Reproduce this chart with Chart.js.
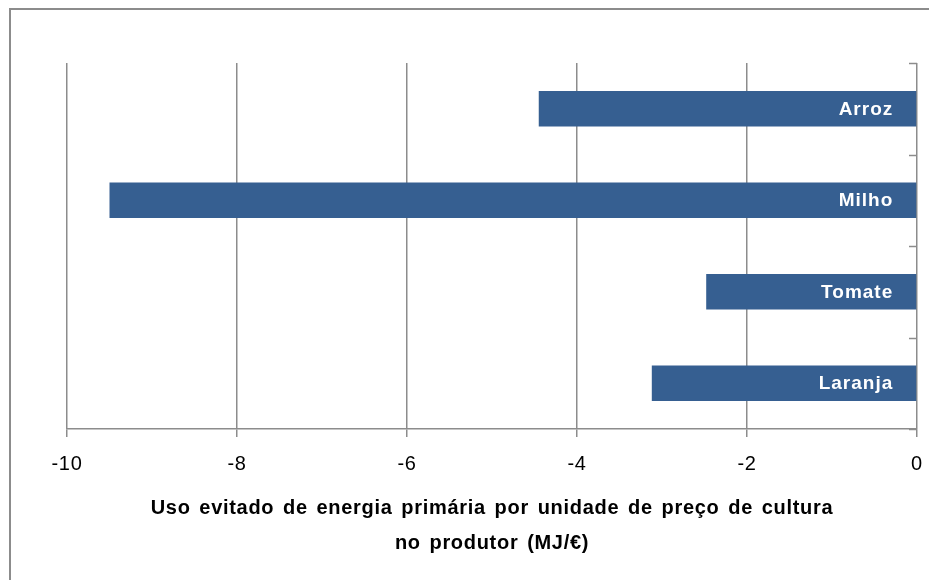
<!DOCTYPE html>
<html>
<head>
<meta charset="utf-8">
<script src="https://cdn.jsdelivr.net/npm/chart.js@4.4.0/dist/chart.umd.min.js"></script>
<style>
  html, body { margin: 0; padding: 0; background: #fff; }
  #wrap { width: 929px; height: 580px; position: relative; }
</style>
</head>
<body>
<div id="wrap"><canvas id="myChart"></canvas></div>
<script>
// crops and avoided primary energy (MJ per euro at the producer)
const crops = ['Arroz', 'Milho', 'Tomate', 'Laranja'];
const avoidedEnergy = [-4.45, -9.5, -2.48, -3.12];
const xTicks = [-10, -8, -6, -4, -2, 0];
const axisTitle = ['Uso evitado de energia primária por unidade de preço de cultura', 'no produtor (MJ/€)'];

const gridGrey = '#8c8c8c';
const barBlue = '#365f91';
const fontFamily = '"Liberation Sans", Arial, sans-serif';

// frame around the chart + small ticks on the value-zero axis + names in bars
const framePlugin = {
    id: 'frame',
    beforeDraw(chart) {
        const c = chart.ctx;
        c.save();
        c.strokeStyle = gridGrey;
        c.lineWidth = 2;
        c.strokeRect(10, 9, 2000, 2000);
        c.restore();
        // slightly wider text like the original office chart
        c.letterSpacing = '0.7px';
        c.wordSpacing = '2.5px';
    },
    afterDatasetsDraw(chart) {
        const c = chart.ctx;
        const area = chart.chartArea;
        const meta = chart.getDatasetMeta(0);
        c.save();
        // tick marks between categories, pointing inwards
        c.strokeStyle = gridGrey;
        c.lineWidth = 1.5;
        const step = (area.bottom - area.top) / crops.length;
        for (let i = 0; i <= crops.length; i++) {
            const y = Math.round(area.top + i * step) + 0.5;
            c.beginPath();
            c.moveTo(area.right - 8, y);
            c.lineTo(area.right, y);
            c.stroke();
        }
        // crop names inside the bars
        c.fillStyle = '#ffffff';
        c.font = 'bold 19px ' + fontFamily;
        c.letterSpacing = '1px';
        c.textAlign = 'right';
        c.textBaseline = 'middle';
        meta.data.forEach((bar, i) => {
            c.fillText(crops[i], bar.base - 23, bar.y + 1);
        });
        c.restore();
    }
};

const ctx = document.getElementById('myChart').getContext('2d');

const myChart = new Chart(ctx, {
    type: 'bar',
    data: {
        labels: crops,
        datasets: [{
            data: avoidedEnergy,
            backgroundColor: barBlue,
            borderWidth: 0,
            categoryPercentage: 1,
            barPercentage: 0.39
        }]
    },
    options: {
        indexAxis: 'y',
        responsive: true,
        maintainAspectRatio: false,
        animation: false,
        layout: {
            padding: { left: 67, right: 12, top: 63, bottom: 19 }
        },
        plugins: {
            legend: { display: false },
            tooltip: { enabled: false }
        },
        scales: {
            x: {
                min: -10,
                max: 0,
                afterBuildTicks(axis) {
                    axis.ticks = xTicks.map(v => ({ value: v }));
                },
                // the layout padding already leaves room for the end labels
                afterFit(axis) {
                    axis.paddingLeft = 0;
                    axis.paddingRight = 0;
                },
                grid: {
                    color: gridGrey,
                    lineWidth: 1.5,
                    tickLength: 8,
                    drawOnChartArea: true
                },
                border: { display: true, color: gridGrey, width: 1.5 },
                ticks: {
                    color: '#000',
                    padding: 15,
                    font: { family: fontFamily, size: 20 },
                    maxRotation: 0
                },
                title: {
                    display: true,
                    text: axisTitle,
                    color: '#000',
                    padding: { top: 0, bottom: 0 },
                    font: { family: fontFamily, size: 20, weight: 'bold', lineHeight: 1.75 }
                }
            },
            y: {
                display: false
            }
        }
    },
    plugins: [framePlugin]
});
</script>
</body>
</html>
